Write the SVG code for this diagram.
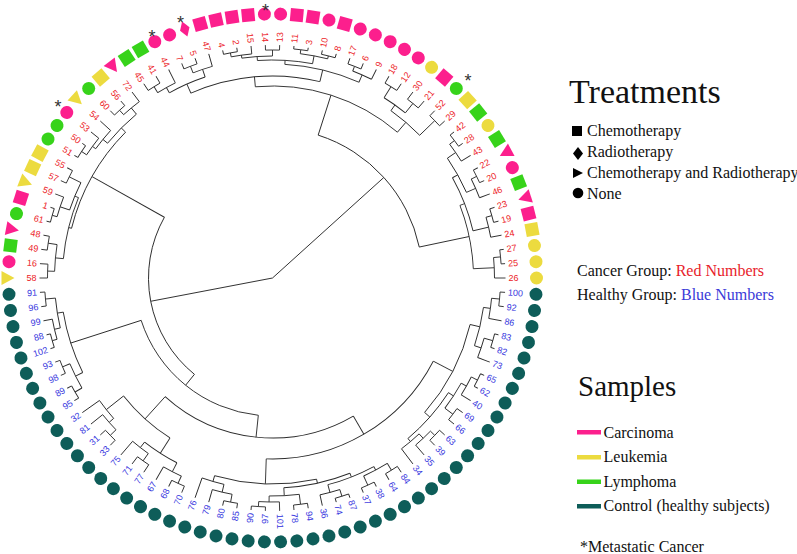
<svg xmlns="http://www.w3.org/2000/svg" width="797" height="554" viewBox="0 0 797 554">
<style>
#connectors path,#connectors circle{fill:none;stroke:#2b2b2b;stroke-width:.9}
.lv text{font-family:"Liberation Sans",Arial,sans-serif;font-size:9px}
.red text{fill:#ec2227}.blue text{fill:#3636de}
.e{text-anchor:end}
.pk{fill:#fc1f8d}.yl{fill:#ecdb3f}.gr{fill:#37d31a}.tl{fill:#0e5d59}
.lv text.st{font-size:18px;fill:#333;text-anchor:middle}
.lg{font-family:"Liberation Serif","Times New Roman",serif;font-size:16px;fill:#111}
</style>
<defs>
<rect id="sq" x="-6.5" y="-6.5" width="13" height="13"/>
<circle id="ci" r="6.5"/>
<polygon id="di" points="-8,0 0,-5 8,0 0,5"/>
<polygon id="tr" points="-6,0 7,-7 7,7"/>
</defs>
<rect width="797" height="554" fill="#fff"/>
<g id="connectors" transform="translate(272.5,278)">
<path d="M0 0H150" transform="rotate(317.91)"/>
<path d="M0 0H124" transform="rotate(169.18)"/>
<circle r="150" pathLength="360" stroke-dasharray="60.36 360" transform="rotate(287.73)"/>
<path d="M150 0H192" transform="rotate(287.73)"/>
<path d="M150 0H201" transform="rotate(348.09)"/>
<circle r="192" pathLength="360" stroke-dasharray="45.72 360" transform="rotate(264.87)"/>
<path d="M192 0H202" transform="rotate(264.87)"/>
<path d="M192 0H205" transform="rotate(310.59)"/>
<circle r="202" pathLength="360" stroke-dasharray="37.39 360" transform="rotate(246.18)"/>
<path d="M202 0H212" transform="rotate(246.18)"/>
<path d="M202 0H214" transform="rotate(283.57)"/>
<circle r="212" pathLength="360" stroke-dasharray="10.59 360" transform="rotate(240.88)"/>
<path d="M212 0H218" transform="rotate(240.88)"/>
<path d="M212 0H220" transform="rotate(251.47)"/>
<circle r="218" pathLength="360" stroke-dasharray="5.29 360" transform="rotate(238.24)"/>
<path d="M218 0H225" transform="rotate(238.24)"/>
<path d="M218 0H233" transform="rotate(243.53)"/>
<circle r="225" pathLength="360" stroke-dasharray="3.53 360" transform="rotate(236.47)"/>
<path d="M225 0H233" transform="rotate(236.47)"/>
<path d="M225 0H233" transform="rotate(240)"/>
<circle r="220" pathLength="360" stroke-dasharray="5.3 360" transform="rotate(248.82)"/>
<path d="M220 0H227" transform="rotate(248.82)"/>
<path d="M220 0H233" transform="rotate(254.12)"/>
<circle r="227" pathLength="360" stroke-dasharray="3.53 360" transform="rotate(247.06)"/>
<path d="M227 0H233" transform="rotate(247.06)"/>
<path d="M227 0H233" transform="rotate(250.59)"/>
<circle r="214" pathLength="360" stroke-dasharray="20.51 360" transform="rotate(273.31)"/>
<path d="M214 0H218" transform="rotate(273.31)"/>
<path d="M214 0H222" transform="rotate(293.82)"/>
<circle r="218" pathLength="360" stroke-dasharray="14.56 360" transform="rotate(266.03)"/>
<path d="M218 0H222" transform="rotate(266.03)"/>
<path d="M218 0H226" transform="rotate(280.59)"/>
<circle r="222" pathLength="360" stroke-dasharray="7.94 360" transform="rotate(262.06)"/>
<path d="M222 0H225" transform="rotate(262.06)"/>
<path d="M222 0H228" transform="rotate(270)"/>
<circle r="225" pathLength="360" stroke-dasharray="5.3 360" transform="rotate(259.41)"/>
<path d="M225 0H229" transform="rotate(259.41)"/>
<path d="M225 0H233" transform="rotate(264.71)"/>
<circle r="229" pathLength="360" stroke-dasharray="3.53 360" transform="rotate(257.65)"/>
<path d="M229 0H233" transform="rotate(257.65)"/>
<path d="M229 0H233" transform="rotate(261.18)"/>
<circle r="228" pathLength="360" stroke-dasharray="3.53 360" transform="rotate(268.24)"/>
<path d="M228 0H233" transform="rotate(268.24)"/>
<path d="M228 0H233" transform="rotate(271.76)"/>
<circle r="226" pathLength="360" stroke-dasharray="7.06 360" transform="rotate(277.06)"/>
<path d="M226 0H230" transform="rotate(277.06)"/>
<path d="M226 0H229" transform="rotate(284.12)"/>
<circle r="230" pathLength="360" stroke-dasharray="3.53 360" transform="rotate(275.29)"/>
<path d="M230 0H233" transform="rotate(275.29)"/>
<path d="M230 0H233" transform="rotate(278.82)"/>
<circle r="229" pathLength="360" stroke-dasharray="3.53 360" transform="rotate(282.35)"/>
<path d="M229 0H233" transform="rotate(282.35)"/>
<path d="M229 0H233" transform="rotate(285.88)"/>
<circle r="222" pathLength="360" stroke-dasharray="5.29 360" transform="rotate(291.18)"/>
<path d="M222 0H227" transform="rotate(291.18)"/>
<path d="M222 0H233" transform="rotate(296.47)"/>
<circle r="227" pathLength="360" stroke-dasharray="3.53 360" transform="rotate(289.41)"/>
<path d="M227 0H233" transform="rotate(289.41)"/>
<path d="M227 0H233" transform="rotate(292.94)"/>
<circle r="205" pathLength="360" stroke-dasharray="10.59 360" transform="rotate(305.29)"/>
<path d="M205 0H212" transform="rotate(305.29)"/>
<path d="M205 0H226" transform="rotate(315.88)"/>
<circle r="212" pathLength="360" stroke-dasharray="7.06 360" transform="rotate(301.76)"/>
<path d="M212 0H225" transform="rotate(301.76)"/>
<path d="M212 0H224" transform="rotate(308.82)"/>
<circle r="225" pathLength="360" stroke-dasharray="3.53 360" transform="rotate(300)"/>
<path d="M225 0H233" transform="rotate(300)"/>
<path d="M225 0H233" transform="rotate(303.53)"/>
<circle r="224" pathLength="360" stroke-dasharray="3.53 360" transform="rotate(307.06)"/>
<path d="M224 0H233" transform="rotate(307.06)"/>
<path d="M224 0H233" transform="rotate(310.59)"/>
<circle r="226" pathLength="360" stroke-dasharray="3.53 360" transform="rotate(314.12)"/>
<path d="M226 0H233" transform="rotate(314.12)"/>
<path d="M226 0H233" transform="rotate(317.65)"/>
<circle r="201" pathLength="360" stroke-dasharray="18.53 360" transform="rotate(338.82)"/>
<path d="M201 0H206" transform="rotate(338.82)"/>
<path d="M201 0H222" transform="rotate(357.35)"/>
<circle r="206" pathLength="360" stroke-dasharray="15.88 360" transform="rotate(330.88)"/>
<path d="M206 0H212" transform="rotate(330.88)"/>
<path d="M206 0H222" transform="rotate(346.76)"/>
<circle r="212" pathLength="360" stroke-dasharray="10.58 360" transform="rotate(325.59)"/>
<path d="M212 0H222" transform="rotate(325.59)"/>
<path d="M212 0H222" transform="rotate(336.17)"/>
<circle r="222" pathLength="360" stroke-dasharray="5.3 360" transform="rotate(322.94)"/>
<path d="M222 0H228" transform="rotate(322.94)"/>
<path d="M222 0H233" transform="rotate(328.24)"/>
<circle r="228" pathLength="360" stroke-dasharray="3.53 360" transform="rotate(321.18)"/>
<path d="M228 0H233" transform="rotate(321.18)"/>
<path d="M228 0H233" transform="rotate(324.71)"/>
<circle r="222" pathLength="360" stroke-dasharray="5.29 360" transform="rotate(333.53)"/>
<path d="M222 0H228" transform="rotate(333.53)"/>
<path d="M222 0H233" transform="rotate(338.82)"/>
<circle r="228" pathLength="360" stroke-dasharray="3.53 360" transform="rotate(331.76)"/>
<path d="M228 0H233" transform="rotate(331.76)"/>
<path d="M228 0H233" transform="rotate(335.29)"/>
<circle r="222" pathLength="360" stroke-dasharray="5.29 360" transform="rotate(344.12)"/>
<path d="M222 0H228" transform="rotate(344.12)"/>
<path d="M222 0H233" transform="rotate(349.41)"/>
<circle r="228" pathLength="360" stroke-dasharray="3.53 360" transform="rotate(342.35)"/>
<path d="M228 0H233" transform="rotate(342.35)"/>
<path d="M228 0H233" transform="rotate(345.88)"/>
<circle r="222" pathLength="360" stroke-dasharray="5.29 360" transform="rotate(354.71)"/>
<path d="M222 0H229" transform="rotate(354.71)"/>
<path d="M222 0H233"/>
<circle r="229" pathLength="360" stroke-dasharray="3.53 360" transform="rotate(352.94)"/>
<path d="M229 0H233" transform="rotate(352.94)"/>
<path d="M229 0H233" transform="rotate(356.47)"/>
<circle r="124" pathLength="360" stroke-dasharray="80.32 360" transform="rotate(129.02)"/>
<path d="M124 0H138" transform="rotate(129.02)"/>
<path d="M124 0H207" transform="rotate(209.34)"/>
<circle r="138" pathLength="360" stroke-dasharray="66.23 360" transform="rotate(95.9)"/>
<path d="M138 0H160" transform="rotate(95.9)"/>
<path d="M138 0H212" transform="rotate(162.13)"/>
<circle r="160" pathLength="360" stroke-dasharray="72.46 360" transform="rotate(59.67)"/>
<path d="M160 0H181" transform="rotate(59.67)"/>
<path d="M160 0H190" transform="rotate(132.13)"/>
<circle r="181" pathLength="360" stroke-dasharray="64.62 360" transform="rotate(27.36)"/>
<path d="M181 0H203" transform="rotate(27.36)"/>
<path d="M181 0H206" transform="rotate(91.98)"/>
<circle r="203" pathLength="360" stroke-dasharray="28.23 360" transform="rotate(13.24)"/>
<path d="M203 0H213" transform="rotate(13.24)"/>
<path d="M203 0H210" transform="rotate(41.47)"/>
<circle r="213" pathLength="360" stroke-dasharray="10.59 360" transform="rotate(7.94)"/>
<path d="M213 0H220" transform="rotate(7.94)"/>
<path d="M213 0H220" transform="rotate(18.53)"/>
<circle r="220" pathLength="360" stroke-dasharray="5.3 360" transform="rotate(5.29)"/>
<path d="M220 0H228" transform="rotate(5.29)"/>
<path d="M220 0H233" transform="rotate(10.59)"/>
<circle r="228" pathLength="360" stroke-dasharray="3.53 360" transform="rotate(3.53)"/>
<path d="M228 0H233" transform="rotate(3.53)"/>
<path d="M228 0H233" transform="rotate(7.06)"/>
<circle r="220" pathLength="360" stroke-dasharray="5.3 360" transform="rotate(15.88)"/>
<path d="M220 0H229" transform="rotate(15.88)"/>
<path d="M220 0H233" transform="rotate(21.18)"/>
<circle r="229" pathLength="360" stroke-dasharray="3.53 360" transform="rotate(14.12)"/>
<path d="M229 0H233" transform="rotate(14.12)"/>
<path d="M229 0H233" transform="rotate(17.65)"/>
<circle r="210" pathLength="360" stroke-dasharray="16.76 360" transform="rotate(33.09)"/>
<path d="M210 0H216" transform="rotate(33.09)"/>
<path d="M210 0H214" transform="rotate(49.85)"/>
<circle r="216" pathLength="360" stroke-dasharray="7.94 360" transform="rotate(29.12)"/>
<path d="M216 0H222" transform="rotate(29.12)"/>
<path d="M216 0H226" transform="rotate(37.06)"/>
<circle r="222" pathLength="360" stroke-dasharray="5.29 360" transform="rotate(26.47)"/>
<path d="M222 0H229" transform="rotate(26.47)"/>
<path d="M222 0H233" transform="rotate(31.76)"/>
<circle r="229" pathLength="360" stroke-dasharray="3.53 360" transform="rotate(24.71)"/>
<path d="M229 0H233" transform="rotate(24.71)"/>
<path d="M229 0H233" transform="rotate(28.24)"/>
<circle r="226" pathLength="360" stroke-dasharray="3.53 360" transform="rotate(35.29)"/>
<path d="M226 0H233" transform="rotate(35.29)"/>
<path d="M226 0H233" transform="rotate(38.82)"/>
<circle r="214" pathLength="360" stroke-dasharray="6.18 360" transform="rotate(46.76)"/>
<path d="M214 0H220" transform="rotate(46.76)"/>
<path d="M214 0H233" transform="rotate(52.94)"/>
<circle r="220" pathLength="360" stroke-dasharray="5.29 360" transform="rotate(44.12)"/>
<path d="M220 0H226" transform="rotate(44.12)"/>
<path d="M220 0H233" transform="rotate(49.41)"/>
<circle r="226" pathLength="360" stroke-dasharray="3.53 360" transform="rotate(42.35)"/>
<path d="M226 0H233" transform="rotate(42.35)"/>
<path d="M226 0H233" transform="rotate(45.88)"/>
<circle r="206" pathLength="360" stroke-dasharray="28.67 360" transform="rotate(77.65)"/>
<path d="M206 0H210" transform="rotate(77.65)"/>
<path d="M206 0H212" transform="rotate(106.32)"/>
<circle r="210" pathLength="360" stroke-dasharray="18.53 360" transform="rotate(68.38)"/>
<path d="M210 0H214" transform="rotate(68.38)"/>
<path d="M210 0H218" transform="rotate(86.91)"/>
<circle r="218" pathLength="360" stroke-dasharray="7.94 360" transform="rotate(82.94)"/>
<path d="M218 0H228" transform="rotate(82.94)"/>
<path d="M218 0H224" transform="rotate(90.88)"/>
<circle r="228" pathLength="360" stroke-dasharray="3.53 360" transform="rotate(81.18)"/>
<path d="M228 0H233" transform="rotate(81.18)"/>
<path d="M228 0H233" transform="rotate(84.71)"/>
<circle r="224" pathLength="360" stroke-dasharray="5.29 360" transform="rotate(88.24)"/>
<path d="M224 0H233" transform="rotate(88.24)"/>
<path d="M224 0H229" transform="rotate(93.53)"/>
<circle r="229" pathLength="360" stroke-dasharray="3.53 360" transform="rotate(91.76)"/>
<path d="M229 0H233" transform="rotate(91.76)"/>
<path d="M229 0H233" transform="rotate(95.29)"/>
<circle r="214" pathLength="360" stroke-dasharray="13.24 360" transform="rotate(61.76)"/>
<path d="M214 0H218" transform="rotate(61.76)"/>
<path d="M214 0H222" transform="rotate(75)"/>
<circle r="218" pathLength="360" stroke-dasharray="7.05 360" transform="rotate(58.24)"/>
<path d="M218 0H226" transform="rotate(58.24)"/>
<path d="M218 0H228" transform="rotate(65.29)"/>
<circle r="226" pathLength="360" stroke-dasharray="3.53 360" transform="rotate(56.47)"/>
<path d="M226 0H233" transform="rotate(56.47)"/>
<path d="M226 0H233" transform="rotate(60)"/>
<circle r="228" pathLength="360" stroke-dasharray="3.53 360" transform="rotate(63.53)"/>
<path d="M228 0H233" transform="rotate(63.53)"/>
<path d="M228 0H233" transform="rotate(67.06)"/>
<circle r="222" pathLength="360" stroke-dasharray="5.3 360" transform="rotate(72.35)"/>
<path d="M222 0H229" transform="rotate(72.35)"/>
<path d="M222 0H233" transform="rotate(77.65)"/>
<circle r="229" pathLength="360" stroke-dasharray="3.53 360" transform="rotate(70.59)"/>
<path d="M229 0H233" transform="rotate(70.59)"/>
<path d="M229 0H233" transform="rotate(74.12)"/>
<circle r="212" pathLength="360" stroke-dasharray="6.18 360" transform="rotate(103.23)"/>
<path d="M212 0H220" transform="rotate(103.23)"/>
<path d="M212 0H233" transform="rotate(109.41)"/>
<circle r="220" pathLength="360" stroke-dasharray="5.29 360" transform="rotate(100.59)"/>
<path d="M220 0H228" transform="rotate(100.59)"/>
<path d="M220 0H233" transform="rotate(105.88)"/>
<circle r="228" pathLength="360" stroke-dasharray="3.53 360" transform="rotate(98.82)"/>
<path d="M228 0H233" transform="rotate(98.82)"/>
<path d="M228 0H233" transform="rotate(102.35)"/>
<circle r="190" pathLength="360" stroke-dasharray="18.97 360" transform="rotate(122.65)"/>
<path d="M190 0H208" transform="rotate(122.65)"/>
<path d="M190 0H212" transform="rotate(141.62)"/>
<circle r="208" pathLength="360" stroke-dasharray="10.59 360" transform="rotate(117.35)"/>
<path d="M208 0H218" transform="rotate(117.35)"/>
<path d="M208 0H215" transform="rotate(127.94)"/>
<circle r="218" pathLength="360" stroke-dasharray="5.29 360" transform="rotate(114.71)"/>
<path d="M218 0H226" transform="rotate(114.71)"/>
<path d="M218 0H233" transform="rotate(120)"/>
<circle r="226" pathLength="360" stroke-dasharray="3.53 360" transform="rotate(112.94)"/>
<path d="M226 0H233" transform="rotate(112.94)"/>
<path d="M226 0H233" transform="rotate(116.47)"/>
<circle r="215" pathLength="360" stroke-dasharray="5.3 360" transform="rotate(125.29)"/>
<path d="M215 0H224" transform="rotate(125.29)"/>
<path d="M215 0H233" transform="rotate(130.59)"/>
<circle r="224" pathLength="360" stroke-dasharray="3.53 360" transform="rotate(123.53)"/>
<path d="M224 0H233" transform="rotate(123.53)"/>
<path d="M224 0H233" transform="rotate(127.06)"/>
<circle r="212" pathLength="360" stroke-dasharray="6.18 360" transform="rotate(138.53)"/>
<path d="M212 0H218" transform="rotate(138.53)"/>
<path d="M212 0H233" transform="rotate(144.71)"/>
<circle r="218" pathLength="360" stroke-dasharray="5.3 360" transform="rotate(135.88)"/>
<path d="M218 0H226" transform="rotate(135.88)"/>
<path d="M218 0H233" transform="rotate(141.18)"/>
<circle r="226" pathLength="360" stroke-dasharray="3.53 360" transform="rotate(134.12)"/>
<path d="M226 0H233" transform="rotate(134.12)"/>
<path d="M226 0H233" transform="rotate(137.65)"/>
<circle r="212" pathLength="360" stroke-dasharray="17.2 360" transform="rotate(153.53)"/>
<path d="M212 0H220" transform="rotate(153.53)"/>
<path d="M212 0H218" transform="rotate(170.73)"/>
<circle r="220" pathLength="360" stroke-dasharray="7.06 360" transform="rotate(150)"/>
<path d="M220 0H228" transform="rotate(150)"/>
<path d="M220 0H228" transform="rotate(157.06)"/>
<circle r="228" pathLength="360" stroke-dasharray="3.52 360" transform="rotate(148.24)"/>
<path d="M228 0H233" transform="rotate(148.24)"/>
<path d="M228 0H233" transform="rotate(151.76)"/>
<circle r="228" pathLength="360" stroke-dasharray="3.53 360" transform="rotate(155.29)"/>
<path d="M228 0H233" transform="rotate(155.29)"/>
<path d="M228 0H233" transform="rotate(158.82)"/>
<circle r="218" pathLength="360" stroke-dasharray="7.95 360" transform="rotate(166.76)"/>
<path d="M218 0H224" transform="rotate(166.76)"/>
<path d="M218 0H228" transform="rotate(174.71)"/>
<circle r="224" pathLength="360" stroke-dasharray="5.29 360" transform="rotate(164.12)"/>
<path d="M224 0H229" transform="rotate(164.12)"/>
<path d="M224 0H233" transform="rotate(169.41)"/>
<circle r="229" pathLength="360" stroke-dasharray="3.53 360" transform="rotate(162.35)"/>
<path d="M229 0H233" transform="rotate(162.35)"/>
<path d="M229 0H233" transform="rotate(165.88)"/>
<circle r="228" pathLength="360" stroke-dasharray="3.53 360" transform="rotate(172.94)"/>
<path d="M228 0H233" transform="rotate(172.94)"/>
<path d="M228 0H233" transform="rotate(176.47)"/>
<circle r="207" pathLength="360" stroke-dasharray="30.88 360" transform="rotate(193.9)"/>
<path d="M207 0H210" transform="rotate(193.9)"/>
<path d="M207 0H213" transform="rotate(224.78)"/>
<circle r="210" pathLength="360" stroke-dasharray="17.21 360" transform="rotate(185.29)"/>
<path d="M210 0H218" transform="rotate(185.29)"/>
<path d="M210 0H214" transform="rotate(202.5)"/>
<circle r="218" pathLength="360" stroke-dasharray="7.06 360" transform="rotate(181.76)"/>
<path d="M218 0H225" transform="rotate(181.76)"/>
<path d="M218 0H227" transform="rotate(188.82)"/>
<circle r="225" pathLength="360" stroke-dasharray="3.53 360" transform="rotate(180)"/>
<path d="M225 0H233" transform="rotate(180)"/>
<path d="M225 0H233" transform="rotate(183.53)"/>
<circle r="227" pathLength="360" stroke-dasharray="3.53 360" transform="rotate(187.06)"/>
<path d="M227 0H233" transform="rotate(187.06)"/>
<path d="M227 0H233" transform="rotate(190.59)"/>
<circle r="214" pathLength="360" stroke-dasharray="7.94 360" transform="rotate(198.53)"/>
<path d="M214 0H224" transform="rotate(198.53)"/>
<path d="M214 0H227" transform="rotate(206.47)"/>
<circle r="224" pathLength="360" stroke-dasharray="5.3 360" transform="rotate(195.88)"/>
<path d="M224 0H229" transform="rotate(195.88)"/>
<path d="M224 0H233" transform="rotate(201.18)"/>
<circle r="229" pathLength="360" stroke-dasharray="3.53 360" transform="rotate(194.12)"/>
<path d="M229 0H233" transform="rotate(194.12)"/>
<path d="M229 0H233" transform="rotate(197.65)"/>
<circle r="227" pathLength="360" stroke-dasharray="3.53 360" transform="rotate(204.71)"/>
<path d="M227 0H233" transform="rotate(204.71)"/>
<path d="M227 0H233" transform="rotate(208.24)"/>
<circle r="213" pathLength="360" stroke-dasharray="11.03 360" transform="rotate(219.26)"/>
<path d="M213 0H219" transform="rotate(219.26)"/>
<path d="M213 0H221" transform="rotate(230.29)"/>
<circle r="219" pathLength="360" stroke-dasharray="6.18 360" transform="rotate(216.17)"/>
<path d="M219 0H223" transform="rotate(216.17)"/>
<path d="M219 0H233" transform="rotate(222.35)"/>
<circle r="223" pathLength="360" stroke-dasharray="5.29 360" transform="rotate(213.53)"/>
<path d="M223 0H229" transform="rotate(213.53)"/>
<path d="M223 0H233" transform="rotate(218.82)"/>
<circle r="229" pathLength="360" stroke-dasharray="3.53 360" transform="rotate(211.76)"/>
<path d="M229 0H233" transform="rotate(211.76)"/>
<path d="M229 0H233" transform="rotate(215.29)"/>
<circle r="221" pathLength="360" stroke-dasharray="5.29 360" transform="rotate(227.65)"/>
<path d="M221 0H227" transform="rotate(227.65)"/>
<path d="M221 0H233" transform="rotate(232.94)"/>
<circle r="227" pathLength="360" stroke-dasharray="3.53 360" transform="rotate(225.88)"/>
<path d="M227 0H233" transform="rotate(225.88)"/>
<path d="M227 0H233" transform="rotate(229.41)"/>
</g>
<g class="lv" transform="translate(272.5,278)">
<g class="blue">
<g id="leaf-100" transform="rotate(3.53)"><use href="#ci" x="264" class="tl"/><text x="236" y="3">100</text></g>
<g id="leaf-92" transform="rotate(7.06)"><use href="#ci" x="264" class="tl"/><text x="236" y="3">92</text></g>
<g id="leaf-86" transform="rotate(10.59)"><use href="#ci" x="264" class="tl"/><text x="236" y="3">86</text></g>
<g id="leaf-83" transform="rotate(14.12)"><use href="#ci" x="264" class="tl"/><text x="236" y="3">83</text></g>
<g id="leaf-82" transform="rotate(17.65)"><use href="#ci" x="264" class="tl"/><text x="236" y="3">82</text></g>
<g id="leaf-73" transform="rotate(21.18)"><use href="#ci" x="264" class="tl"/><text x="236" y="3">73</text></g>
<g id="leaf-65" transform="rotate(24.71)"><use href="#ci" x="264" class="tl"/><text x="236" y="3">65</text></g>
<g id="leaf-62" transform="rotate(28.24)"><use href="#ci" x="264" class="tl"/><text x="236" y="3">62</text></g>
<g id="leaf-40" transform="rotate(31.76)"><use href="#ci" x="264" class="tl"/><text x="236" y="3">40</text></g>
<g id="leaf-69" transform="rotate(35.29)"><use href="#ci" x="264" class="tl"/><text x="236" y="3">69</text></g>
<g id="leaf-66" transform="rotate(38.82)"><use href="#ci" x="264" class="tl"/><text x="236" y="3">66</text></g>
<g id="leaf-63" transform="rotate(42.35)"><use href="#ci" x="264" class="tl"/><text x="236" y="3">63</text></g>
<g id="leaf-39" transform="rotate(45.88)"><use href="#ci" x="264" class="tl"/><text x="236" y="3">39</text></g>
<g id="leaf-35" transform="rotate(49.41)"><use href="#ci" x="264" class="tl"/><text x="236" y="3">35</text></g>
<g id="leaf-34" transform="rotate(52.94)"><use href="#ci" x="264" class="tl"/><text x="236" y="3">34</text></g>
<g id="leaf-84" transform="rotate(56.47)"><use href="#ci" x="264" class="tl"/><text x="236" y="3">84</text></g>
<g id="leaf-64" transform="rotate(60)"><use href="#ci" x="264" class="tl"/><text x="236" y="3">64</text></g>
<g id="leaf-38" transform="rotate(63.53)"><use href="#ci" x="264" class="tl"/><text x="236" y="3">38</text></g>
<g id="leaf-37" transform="rotate(67.06)"><use href="#ci" x="264" class="tl"/><text x="236" y="3">37</text></g>
<g id="leaf-87" transform="rotate(70.59)"><use href="#ci" x="264" class="tl"/><text x="236" y="3">87</text></g>
<g id="leaf-74" transform="rotate(74.12)"><use href="#ci" x="264" class="tl"/><text x="236" y="3">74</text></g>
<g id="leaf-36" transform="rotate(77.65)"><use href="#ci" x="264" class="tl"/><text x="236" y="3">36</text></g>
<g id="leaf-94" transform="rotate(81.18)"><use href="#ci" x="264" class="tl"/><text x="236" y="3">94</text></g>
<g id="leaf-78" transform="rotate(84.71)"><use href="#ci" x="264" class="tl"/><text x="236" y="3">78</text></g>
<g id="leaf-101" transform="rotate(88.24)"><use href="#ci" x="264" class="tl"/><text x="236" y="3">101</text></g>
<g id="leaf-97" transform="rotate(91.76)"><use href="#ci" x="264" class="tl"/><text class="e" transform="rotate(180)" x="-236" y="3">97</text></g>
<g id="leaf-90" transform="rotate(95.29)"><use href="#ci" x="264" class="tl"/><text class="e" transform="rotate(180)" x="-236" y="3">90</text></g>
<g id="leaf-85" transform="rotate(98.82)"><use href="#ci" x="264" class="tl"/><text class="e" transform="rotate(180)" x="-236" y="3">85</text></g>
<g id="leaf-80" transform="rotate(102.35)"><use href="#ci" x="264" class="tl"/><text class="e" transform="rotate(180)" x="-236" y="3">80</text></g>
<g id="leaf-79" transform="rotate(105.88)"><use href="#ci" x="264" class="tl"/><text class="e" transform="rotate(180)" x="-236" y="3">79</text></g>
<g id="leaf-76" transform="rotate(109.41)"><use href="#ci" x="264" class="tl"/><text class="e" transform="rotate(180)" x="-236" y="3">76</text></g>
<g id="leaf-70" transform="rotate(112.94)"><use href="#ci" x="264" class="tl"/><text class="e" transform="rotate(180)" x="-236" y="3">70</text></g>
<g id="leaf-68" transform="rotate(116.47)"><use href="#ci" x="264" class="tl"/><text class="e" transform="rotate(180)" x="-236" y="3">68</text></g>
<g id="leaf-67" transform="rotate(120)"><use href="#ci" x="264" class="tl"/><text class="e" transform="rotate(180)" x="-236" y="3">67</text></g>
<g id="leaf-77" transform="rotate(123.53)"><use href="#ci" x="264" class="tl"/><text class="e" transform="rotate(180)" x="-236" y="3">77</text></g>
<g id="leaf-71" transform="rotate(127.06)"><use href="#ci" x="264" class="tl"/><text class="e" transform="rotate(180)" x="-236" y="3">71</text></g>
<g id="leaf-75" transform="rotate(130.59)"><use href="#ci" x="264" class="tl"/><text class="e" transform="rotate(180)" x="-236" y="3">75</text></g>
<g id="leaf-33" transform="rotate(134.12)"><use href="#ci" x="264" class="tl"/><text class="e" transform="rotate(180)" x="-236" y="3">33</text></g>
<g id="leaf-31" transform="rotate(137.65)"><use href="#ci" x="264" class="tl"/><text class="e" transform="rotate(180)" x="-236" y="3">31</text></g>
<g id="leaf-81" transform="rotate(141.18)"><use href="#ci" x="264" class="tl"/><text class="e" transform="rotate(180)" x="-236" y="3">81</text></g>
<g id="leaf-32" transform="rotate(144.71)"><use href="#ci" x="264" class="tl"/><text class="e" transform="rotate(180)" x="-236" y="3">32</text></g>
<g id="leaf-95" transform="rotate(148.24)"><use href="#ci" x="264" class="tl"/><text class="e" transform="rotate(180)" x="-236" y="3">95</text></g>
<g id="leaf-89" transform="rotate(151.76)"><use href="#ci" x="264" class="tl"/><text class="e" transform="rotate(180)" x="-236" y="3">89</text></g>
<g id="leaf-98" transform="rotate(155.29)"><use href="#ci" x="264" class="tl"/><text class="e" transform="rotate(180)" x="-236" y="3">98</text></g>
<g id="leaf-93" transform="rotate(158.82)"><use href="#ci" x="264" class="tl"/><text class="e" transform="rotate(180)" x="-236" y="3">93</text></g>
<g id="leaf-102" transform="rotate(162.35)"><use href="#ci" x="264" class="tl"/><text class="e" transform="rotate(180)" x="-236" y="3">102</text></g>
<g id="leaf-88" transform="rotate(165.88)"><use href="#ci" x="264" class="tl"/><text class="e" transform="rotate(180)" x="-236" y="3">88</text></g>
<g id="leaf-99" transform="rotate(169.41)"><use href="#ci" x="264" class="tl"/><text class="e" transform="rotate(180)" x="-236" y="3">99</text></g>
<g id="leaf-96" transform="rotate(172.94)"><use href="#ci" x="264" class="tl"/><text class="e" transform="rotate(180)" x="-236" y="3">96</text></g>
<g id="leaf-91" transform="rotate(176.47)"><use href="#ci" x="264" class="tl"/><text class="e" transform="rotate(180)" x="-236" y="3">91</text></g>
</g>
<g class="red">
<g id="leaf-26"><use href="#ci" x="264" class="yl"/><text x="236" y="3">26</text></g>
<g id="leaf-58" transform="rotate(180)"><use href="#tr" x="264" class="yl"/><text class="e" transform="rotate(180)" x="-236" y="3">58</text></g>
<g id="leaf-16" transform="rotate(183.53)"><use href="#ci" x="264" class="pk"/><text class="e" transform="rotate(180)" x="-236" y="3">16</text></g>
<g id="leaf-49" transform="rotate(187.06)"><use href="#sq" x="264" class="gr"/><text class="e" transform="rotate(180)" x="-236" y="3">49</text></g>
<g id="leaf-48" transform="rotate(190.59)"><use href="#tr" x="264" class="pk"/><text class="e" transform="rotate(180)" x="-236" y="3">48</text></g>
<g id="leaf-61" transform="rotate(194.12)"><use href="#ci" x="264" class="gr"/><text class="e" transform="rotate(180)" x="-236" y="3">61</text></g>
<g id="leaf-1" transform="rotate(197.65)"><use href="#sq" x="264" class="pk"/><text class="e" transform="rotate(180)" x="-236" y="3">1</text></g>
<g id="leaf-59" transform="rotate(201.18)"><use href="#tr" x="264" class="yl"/><text class="e" transform="rotate(180)" x="-236" y="3">59</text></g>
<g id="leaf-57" transform="rotate(204.71)"><use href="#sq" x="264" class="yl"/><text class="e" transform="rotate(180)" x="-236" y="3">57</text></g>
<g id="leaf-55" transform="rotate(208.24)"><use href="#sq" x="264" class="yl"/><text class="e" transform="rotate(180)" x="-236" y="3">55</text></g>
<g id="leaf-51" transform="rotate(211.76)"><use href="#ci" x="264" class="gr"/><text class="e" transform="rotate(180)" x="-236" y="3">51</text></g>
<g id="leaf-50" transform="rotate(215.29)"><use href="#ci" x="264" class="gr"/><text class="e" transform="rotate(180)" x="-236" y="3">50</text></g>
<g id="leaf-53" transform="rotate(218.82)"><use href="#ci" x="264" class="pk"/><text class="e" transform="rotate(180)" x="-236" y="3">53</text><text class="st" transform="rotate(-218.82)" x="-214.5" y="-165">*</text></g>
<g id="leaf-54" transform="rotate(222.35)"><use href="#tr" x="264" class="yl"/><text class="e" transform="rotate(180)" x="-236" y="3">54</text></g>
<g id="leaf-60" transform="rotate(225.88)"><use href="#ci" x="264" class="gr"/><text class="e" transform="rotate(180)" x="-236" y="3">60</text></g>
<g id="leaf-56" transform="rotate(229.41)"><use href="#sq" x="264" class="yl"/><text class="e" transform="rotate(180)" x="-236" y="3">56</text></g>
<g id="leaf-72" transform="rotate(232.94)"><use href="#tr" x="264" class="pk"/><text class="e" transform="rotate(180)" x="-236" y="3">72</text></g>
<g id="leaf-45" transform="rotate(236.47)"><use href="#sq" x="264" class="gr"/><text class="e" transform="rotate(180)" x="-236" y="3">45</text></g>
<g id="leaf-41" transform="rotate(240)"><use href="#sq" x="264" class="gr"/><text class="e" transform="rotate(180)" x="-236" y="3">41</text></g>
<g id="leaf-44" transform="rotate(243.53)"><use href="#ci" x="264" class="pk"/><text class="e" transform="rotate(180)" x="-236" y="3">44</text><text class="st" transform="rotate(-243.53)" x="-120.5" y="-235">*</text></g>
<g id="leaf-7" transform="rotate(247.06)"><use href="#ci" x="264" class="pk"/><text class="e" transform="rotate(180)" x="-236" y="3">7</text></g>
<g id="leaf-5" transform="rotate(250.59)"><use href="#di" x="264" class="pk"/><text class="e" transform="rotate(180)" x="-236" y="3">5</text><text class="st" transform="rotate(-250.59)" x="-92" y="-249.5">*</text></g>
<g id="leaf-47" transform="rotate(254.12)"><use href="#sq" x="264" class="pk"/><text class="e" transform="rotate(180)" x="-236" y="3">47</text></g>
<g id="leaf-4" transform="rotate(257.65)"><use href="#sq" x="264" class="pk"/><text class="e" transform="rotate(180)" x="-236" y="3">4</text></g>
<g id="leaf-2" transform="rotate(261.18)"><use href="#sq" x="264" class="pk"/><text class="e" transform="rotate(180)" x="-236" y="3">2</text></g>
<g id="leaf-15" transform="rotate(264.71)"><use href="#sq" x="264" class="pk"/><text class="e" transform="rotate(180)" x="-236" y="3">15</text></g>
<g id="leaf-14" transform="rotate(268.24)"><use href="#ci" x="264" class="pk"/><text class="e" transform="rotate(180)" x="-236" y="3">14</text><text class="st" transform="rotate(-268.24)" x="-7" y="-261.5">*</text></g>
<g id="leaf-13" transform="rotate(271.76)"><use href="#ci" x="264" class="pk"/><text x="236" y="3">13</text></g>
<g id="leaf-11" transform="rotate(275.29)"><use href="#sq" x="264" class="pk"/><text x="236" y="3">11</text></g>
<g id="leaf-3" transform="rotate(278.82)"><use href="#sq" x="264" class="pk"/><text x="236" y="3">3</text></g>
<g id="leaf-10" transform="rotate(282.35)"><use href="#ci" x="264" class="pk"/><text x="236" y="3">10</text></g>
<g id="leaf-8" transform="rotate(285.88)"><use href="#sq" x="264" class="pk"/><text x="236" y="3">8</text></g>
<g id="leaf-17" transform="rotate(289.41)"><use href="#ci" x="264" class="pk"/><text x="236" y="3">17</text></g>
<g id="leaf-6" transform="rotate(292.94)"><use href="#ci" x="264" class="pk"/><text x="236" y="3">6</text></g>
<g id="leaf-9" transform="rotate(296.47)"><use href="#ci" x="264" class="pk"/><text x="236" y="3">9</text></g>
<g id="leaf-18" transform="rotate(300)"><use href="#ci" x="264" class="pk"/><text x="236" y="3">18</text></g>
<g id="leaf-12" transform="rotate(303.53)"><use href="#ci" x="264" class="pk"/><text x="236" y="3">12</text></g>
<g id="leaf-30" transform="rotate(307.06)"><use href="#ci" x="264" class="yl"/><text x="236" y="3">30</text></g>
<g id="leaf-21" transform="rotate(310.59)"><use href="#sq" x="264" class="pk"/><text x="236" y="3">21</text></g>
<g id="leaf-52" transform="rotate(314.12)"><use href="#ci" x="264" class="gr"/><text x="236" y="3">52</text><text class="st" transform="rotate(-314.12)" x="195.5" y="-191">*</text></g>
<g id="leaf-29" transform="rotate(317.65)"><use href="#sq" x="264" class="yl"/><text x="236" y="3">29</text></g>
<g id="leaf-42" transform="rotate(321.18)"><use href="#sq" x="264" class="gr"/><text x="236" y="3">42</text></g>
<g id="leaf-28" transform="rotate(324.71)"><use href="#ci" x="264" class="yl"/><text x="236" y="3">28</text></g>
<g id="leaf-43" transform="rotate(328.24)"><use href="#sq" x="264" class="gr"/><text x="236" y="3">43</text></g>
<g id="leaf-22" transform="rotate(331.76)"><use href="#tr" x="264" class="pk"/><text x="236" y="3">22</text></g>
<g id="leaf-20" transform="rotate(335.29)"><use href="#ci" x="264" class="pk"/><text x="236" y="3">20</text></g>
<g id="leaf-46" transform="rotate(338.82)"><use href="#sq" x="264" class="gr"/><text x="236" y="3">46</text></g>
<g id="leaf-23" transform="rotate(342.35)"><use href="#tr" x="264" class="pk"/><text x="236" y="3">23</text></g>
<g id="leaf-19" transform="rotate(345.88)"><use href="#sq" x="264" class="pk"/><text x="236" y="3">19</text></g>
<g id="leaf-24" transform="rotate(349.41)"><use href="#sq" x="264" class="yl"/><text x="236" y="3">24</text></g>
<g id="leaf-27" transform="rotate(352.94)"><use href="#ci" x="264" class="yl"/><text x="236" y="3">27</text></g>
<g id="leaf-25" transform="rotate(356.47)"><use href="#ci" x="264" class="yl"/><text x="236" y="3">25</text></g>
</g>
</g>
<g id="legend">
<text x="569" y="103" class="lg" style="font-size:34px">Treatments</text>
<g id="legend-chemo"><rect x="572" y="126" width="10" height="10" fill="#000"/><text x="587" y="136" class="lg">Chemotherapy</text></g>
<g id="legend-radio"><polygon points="578,147 583,153.5 578,160 573,153.5" fill="#000"/><text x="587" y="157" class="lg">Radiotherapy</text></g>
<g id="legend-both"><polygon points="573,168 583,173 573,178" fill="#000"/><text x="587" y="178" class="lg">Chemotherapy and Radiotherapy</text></g>
<g id="legend-none"><circle cx="578" cy="193" r="5.3" fill="#000"/><text x="587" y="199" class="lg">None</text></g>
<text x="577" y="276" class="lg">Cancer Group: <tspan fill="#e8222a">Red Numbers</tspan></text>
<text x="577" y="300" class="lg">Healthy Group: <tspan fill="#3a3ad8">Blue Numbers</tspan></text>
<text x="578" y="396" class="lg" style="font-size:29px">Samples</text>
<g id="legend-carcinoma"><rect x="577" y="430" width="24" height="4.5" class="pk"/><text x="603.5" y="437.5" class="lg">Carcinoma</text></g>
<g id="legend-leukemia"><rect x="577" y="455" width="24" height="4.5" class="yl"/><text x="603.5" y="462" class="lg">Leukemia</text></g>
<g id="legend-lymphoma"><rect x="577" y="479.5" width="24" height="4.5" class="gr"/><text x="603.5" y="486.5" class="lg">Lymphoma</text></g>
<g id="legend-control"><rect x="577" y="504" width="24" height="4.5" class="tl"/><text x="603.5" y="511" class="lg">Control (healthy subjects)</text></g>
<text x="580" y="552" class="lg">*Metastatic Cancer</text>
</g>
</svg>
